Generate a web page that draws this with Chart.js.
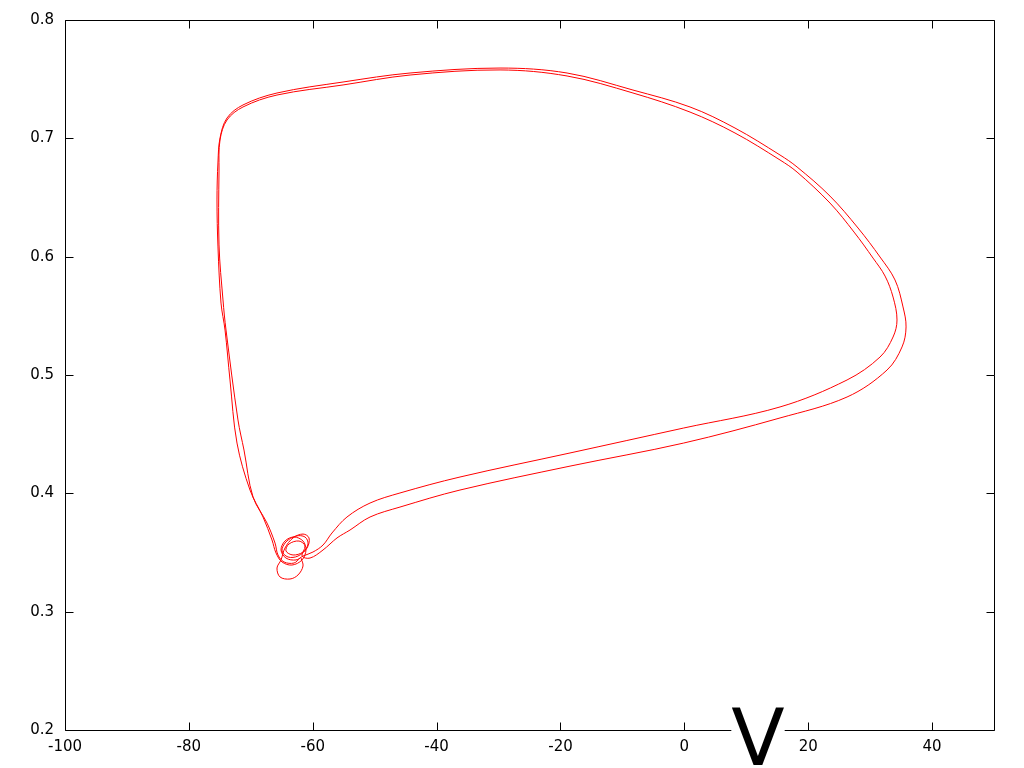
<!DOCTYPE html>
<html>
<head>
<meta charset="utf-8">
<script src="https://cdn.jsdelivr.net/npm/chart.js@4.4.0/dist/chart.umd.min.js"></script>
<style>
  html, body { margin: 0; padding: 0; background: #ffffff; }
  canvas { display: block; }
</style>
</head>
<body>
<canvas id="phaseChart" width="1024" height="768"></canvas>
<script>
// axis ticks
const xTicks = [-100, -80, -60, -40, -20, 0, 20, 40];
const yTicks = [0.2, 0.3, 0.4, 0.5, 0.6, 0.7, 0.8];
const xLabel = 'V';

// trajectory (V, gate variable)
const vValues = [
  // start near rest, small oscillations
  -61.89, -61.57, -62.38, -63.67, -65.28, -65.77, -65.12, -64.48, -63.18, -61.57,
  -60.60, -60.92, -62.38, -63.99, -64.96, -64.32, -62.70, -61.25, -60.76, -61.57,
  -63.18, -64.32, -63.83, -62.22, -61.25, -61.73, -60.44,
  // first loop (outer)
  -58.34, -56.08, -53.98, -50.75, -45.91, -36.22, -18.46, -0.1, 15.45, 26.27,
  32.73, 35.15, 35.80, 35.31, 34.02, 31.60, 28.05, 23.52, 18.20, 15.45,
  8.18, 0.92, -8.29, -18.94, -29.76, -44.29, -55.11, -65.77, -71.26, -73.84,
  -74.97, -75.30, -75.46, -75.30, -74.81, -74.16, -73.36, -72.23, -70.13, -68.03,
  -66.58, -65.93,
  // back at rest
  -64.96, -63.35, -61.73, -61.09, -61.57, -63.02, -64.48, -65.12, -64.32, -62.70,
  -61.57,
  // second loop (inner)
  -59.96, -58.34, -56.89, -54.47, -50.75, -45.91, -36.22, -18.46, -0.1, 15.45,
  26.27, 31.60, 33.70, 34.34, 33.70, 32.41, 30.47, 27.40, 23.52, 18.20,
  15.45, 8.18, 0.92, -8.29, -18.94, -29.76, -44.29, -55.11, -65.77, -71.26,
  -73.84, -74.97, -75.13, -75.13, -74.49, -74.00, -72.07, -71.10, -69.64, -67.38,
  -66.09, -65.61, -64.64, -63.02, -62.05
];
const wValues = [
  0.3453, 0.3386, 0.3310, 0.3276, 0.3293, 0.3369, 0.3437, 0.3538, 0.3623, 0.3656,
  0.3623, 0.3538, 0.3470, 0.3462, 0.3513, 0.3589, 0.3639, 0.3631, 0.3572, 0.3504,
  0.3479, 0.3513, 0.3572, 0.3597, 0.3555, 0.3470, 0.3453,
  0.3521, 0.3623, 0.3690, 0.3800, 0.3884, 0.4028, 0.4230, 0.4425, 0.4637, 0.4814,
  0.5042, 0.5237, 0.5406, 0.5575, 0.5803, 0.5997, 0.6242, 0.6512, 0.6758, 0.6859,
  0.7087, 0.7265, 0.7408, 0.7552, 0.7594, 0.7552, 0.7476, 0.7383, 0.7282, 0.7172,
  0.7003, 0.6800, 0.6479, 0.6082, 0.5608, 0.5380, 0.4958, 0.4425, 0.4028, 0.3800,
  0.3606, 0.3496,
  0.3420, 0.3394, 0.3437, 0.3521, 0.3597, 0.3631, 0.3597, 0.3521, 0.3453, 0.3437,
  0.3470,
  0.3504, 0.3563, 0.3665, 0.3800, 0.3918, 0.4003, 0.4138, 0.4341, 0.4552, 0.4730,
  0.4958, 0.5152, 0.5321, 0.5465, 0.5659, 0.5836, 0.5988, 0.6208, 0.6453, 0.6715,
  0.6817, 0.7045, 0.7222, 0.7383, 0.7527, 0.7578, 0.7535, 0.7451, 0.7366, 0.7265,
  0.7155, 0.6986, 0.6732, 0.6099, 0.5634, 0.5380, 0.4620, 0.4366, 0.3969, 0.3749,
  0.3580, 0.3479, 0.3420, 0.3411, 0.3453
];

const points = vValues.map((v, i) => ({ x: v, y: wValues[i] }));

// frame with inward ticks on all four sides, plus the big axis label
const framePlugin = {
  id: 'frame',
  afterDatasetsDraw(chart) {
    const { ctx, chartArea: a, scales } = chart;
    const L = Math.round(a.left) + 0.5, R = Math.round(a.right) + 0.5;
    const T = Math.round(a.top) + 0.5, B = Math.round(a.bottom) + 0.5;
    ctx.save();
    ctx.strokeStyle = '#000';
    ctx.lineWidth = 1;
    ctx.beginPath();
    ctx.rect(L, T, R - L, B - T);
    xTicks.forEach(v => {
      const px = Math.round(scales.x.getPixelForValue(v)) + 0.5;
      ctx.moveTo(px, B); ctx.lineTo(px, B - 8);
      ctx.moveTo(px, T); ctx.lineTo(px, T + 8);
    });
    yTicks.forEach(v => {
      const py = Math.round(scales.y.getPixelForValue(v)) + 0.5;
      ctx.moveTo(L, py); ctx.lineTo(L + 8, py);
      ctx.moveTo(R, py); ctx.lineTo(R - 8, py);
    });
    ctx.stroke();

    // big "V" label sitting on the bottom axis
    ctx.font = '78px "DejaVu Sans"';
    const w = ctx.measureText(xLabel).width;
    const cx = 758;
    ctx.fillStyle = '#ffffff';
    ctx.fillRect(cx - w / 2, 700, w, 68);
    ctx.fillStyle = '#000';
    ctx.textAlign = 'center';
    ctx.textBaseline = 'alphabetic';
    ctx.fillText(xLabel, cx, 765);
    ctx.restore();
  }
};

const tickFont = { family: 'DejaVu Sans', size: 15 };

new Chart(document.getElementById('phaseChart'), {
  type: 'scatter',
  data: {
    datasets: [{
      data: points,
      showLine: true,
      borderColor: '#ff0000',
      borderWidth: 1,
      pointRadius: 0,
      tension: 0.35,
      fill: false
    }]
  },
  options: {
    responsive: false,
    animation: false,
    layout: { padding: { top: 20, right: 30, left: 0, bottom: 0 } },
    plugins: {
      legend: { display: false },
      tooltip: { enabled: false }
    },
    scales: {
      x: {
        type: 'linear',
        min: -100,
        max: 50,
        afterBuildTicks: s => { s.ticks = xTicks.map(v => ({ value: v })); },
        afterFit: s => { s.height = 38; },
        grid: { display: false, drawTicks: false },
        border: { display: false },
        ticks: { color: '#000', font: tickFont, padding: 8, maxRotation: 0, callback: v => String(v) }
      },
      y: {
        type: 'linear',
        min: 0.2,
        max: 0.8,
        afterBuildTicks: s => { s.ticks = yTicks.map(v => ({ value: v })); },
        afterFit: s => { s.width = 65; },
        grid: { display: false, drawTicks: false },
        border: { display: false },
        ticks: { color: '#000', font: tickFont, padding: 11, callback: v => String(v) }
      }
    }
  },
  plugins: [framePlugin]
});
</script>
</body>
</html>
